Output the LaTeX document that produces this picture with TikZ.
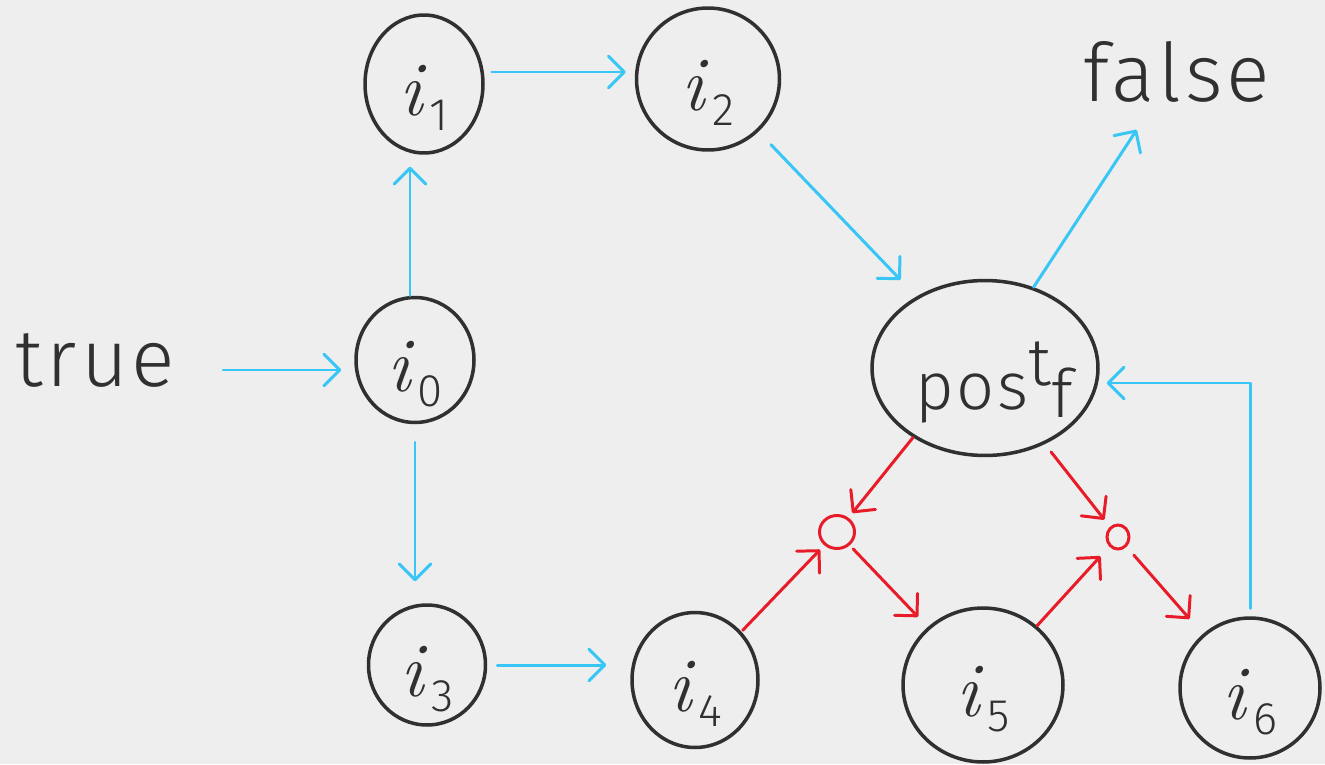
\documentclass[tikz,border=0pt]{standalone}
\usepackage{fontspec}
\newfontfamily\hand{Fira Sans Light}
\usetikzlibrary{arrows.meta,shapes.geometric}
\definecolor{paper}{RGB}{238,238,238}
\definecolor{ink}{RGB}{48,48,48}
\definecolor{flowc}{RGB}{55,198,245}
\definecolor{cexc}{RGB}{232,28,40}
% a label of no width, shifted down inside its node, so the node keeps its own size
\newcommand\lowered[1]{\makebox[0pt]{\raisebox{-8pt}[\height][\depth]{#1}}}
\newcommand\idx[1]{\lowered{{\itshape i}\kern4pt\raisebox{-.2em}{\hand\fontsize{26}{26}\selectfont #1}}}
\begin{document}
\begin{tikzpicture}[x=0.02cm,y=-0.02cm,
  blob/.style={ellipse,draw=ink,line width=2pt,inner sep=0pt,text=ink,
    font=\fontsize{44}{48}\selectfont},
  knot/.style={ellipse,draw=cexc,line width=1.7pt,inner sep=0pt},
  word/.style={inner sep=0pt,text=ink,
    font=\hand\fontsize{46}{50}\selectfont\addfontfeatures{LetterSpace=5}},
  link/.style={line width=1.7pt,line cap=round,line join=round,
    -{Straight Barb[length=9pt,width=18pt,round]}},
  flow/.style={link,draw=flowc},
  cex/.style={link,draw=cexc}]
\fill[paper] (0,0) rectangle (1325,764);
\useasboundingbox (0,0) rectangle (1325,764);

% states
\node[blob,minimum width=2.36cm,minimum height=2.5cm] (i0) at (415,360) {\idx{0}};
\node[blob,minimum width=2.36cm,minimum height=2.76cm] (i1) at (424,84) {\idx{1}};
\node[blob,minimum width=2.86cm,minimum height=2.84cm] (i2) at (708,79) {\idx{2}};
\node[blob,minimum width=2.34cm,minimum height=2.4cm] (i3) at (427,665) {\idx{3}};
\node[blob,minimum width=2.52cm,minimum height=2.7cm] (i4) at (695,680) {\idx{4}};
\node[blob,minimum width=3.2cm,minimum height=3.08cm] (i5) at (983,685) {\idx{5}};
\node[blob,minimum width=2.8cm,minimum height=2.8cm] (i6) at (1250,688) {\idx{6}};
\node[blob,minimum width=4.52cm,minimum height=3.5cm] (pf) at (985,368)
  {\lowered{\hspace{10pt}\hand\fontsize{38}{40}\selectfont\addfontfeatures{LetterSpace=4}pos\raisebox{.36em}{t}\raisebox{-.12em}{f}}};

% intermediate points of the counterexample
\node[knot,minimum width=0.7cm,minimum height=0.66cm] (c1) at (837,532) {};
\node[knot,minimum width=0.44cm,minimum height=0.48cm] (c2) at (1118,537) {};

% constants
\node[word,anchor=west] (tr) at (15,360) {true};
\node[word,anchor=west] (fa) at (1083,72) {false};

% transitions
\draw[flow,shorten <=0.95cm,shorten >=0.26cm] ([yshift=-0.2cm]tr.east) -- ([yshift=-0.2cm]tr.east -| i0.west);
\draw[flow,shorten >=0.24cm] ([xshift=-0.1cm]i0.north) -- ([xshift=-0.1cm]i0.north |- i1.south);
\draw[flow,shorten <=0.14cm,shorten >=0.18cm] ([yshift=0.24cm]i1.east) -- ([yshift=0.24cm]i1.east -| i2.west);
\draw[flow,shorten <=0.36cm,shorten >=0.46cm] (i2) -- (pf);
\draw[flow] (pf.59) -- ([xshift=-0.8cm,yshift=-0.54cm]fa.south);
\draw[flow,shorten <=0.36cm,shorten >=0.44cm] (i0.south) -- (i0.south |- i3.north);
\draw[flow,shorten <=0.2cm,shorten >=0.48cm] (i3.east) -- (i3.east -| i4.west);
\draw[flow,shorten <=0.16cm,shorten >=0.14cm] (i6.north) |- ([yshift=-0.3cm]pf.east);

% counterexample steps
\draw[cex,shorten >=0.12cm] (pf.224) -- (c1);
\draw[cex,shorten <=0.1cm,shorten >=0.28cm] (c1) -- (i5);
\draw[cex,shorten <=0.04cm,shorten >=0.12cm] (i4) -- (c1);
\draw[cex,shorten <=0.2cm,shorten >=0.18cm] (pf) -- (c2);
\draw[cex,shorten <=0.22cm,shorten >=0.4cm] (c2) -- (i6);
\draw[cex,shorten >=0.26cm] (i5) -- (c2);
\end{tikzpicture}
\end{document}
